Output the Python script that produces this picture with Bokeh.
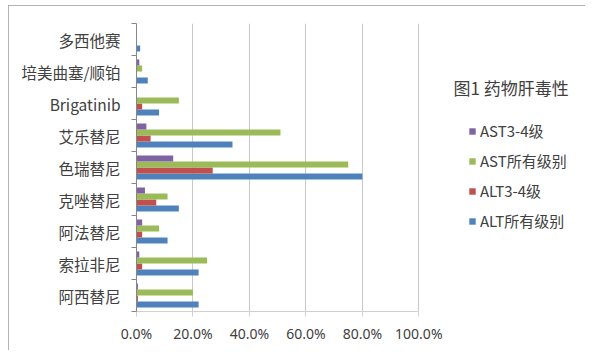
import numpy as np
from bokeh.plotting import figure
from bokeh.models import (ColumnDataSource, Range1d, FixedTicker, NumeralTickFormatter,
                          Legend, LegendItem, Label)
from bokeh.embed import file_html
from bokeh.resources import INLINE

# Data (bottom to top as drawn)
categories = ["阿西替尼", "索拉非尼", "阿法替尼", "克唑替尼", "色瑞替尼",
              "艾乐替尼", "Brigatinib", "培美曲塞/顺铂", "多西他赛"]
alt_all = [0.22, 0.22, 0.11, 0.15, 0.80, 0.34, 0.08, 0.04, 0.013]
alt_34 = [0.005, 0.02, 0.02, 0.07, 0.27, 0.05, 0.02, 0.0, 0.0]
ast_all = [0.20, 0.25, 0.08, 0.11, 0.75, 0.51, 0.15, 0.02, 0.0]
ast_34 = [0.005, 0.01, 0.02, 0.03, 0.13, 0.035, 0.0, 0.01, 0.0]
x_ticks = [0.0, 0.2, 0.4, 0.6, 0.8, 1.0]

series = [
    ("ALT所有级别", alt_all, "#4F81BD", -0.28),
    ("ALT3-4级", alt_34, "#C0504D", -0.094),
    ("AST所有级别", ast_all, "#9BBB59", 0.094),
    ("AST3-4级", ast_34, "#8064A2", 0.28),
]

n = len(categories)
centers = np.arange(n) + 0.5

p = figure(width=577, height=345, output_backend="svg", toolbar_location=None,
           x_range=Range1d(0, 1.5586), y_range=Range1d(0, n),
           min_border_left=128, min_border_right=9, min_border_top=18,
           min_border_bottom=39)
p.outline_line_color = None
p.styles = {"outline": "1px solid #9a9a9a", "outline-offset": "-1px",
            "margin-left": "8px", "margin-top": "5px"}

renderers = {}
for name, vals, color, off in series:
    src = ColumnDataSource(dict(y=centers + off, v=vals))
    r = p.hbar(y="y", right="v", left=0, height=0.19, source=src,
               fill_color=color, line_color=None)
    renderers[name] = r

# X axis
p.xaxis.ticker = FixedTicker(ticks=x_ticks)
p.xaxis.bounds = (0, 1.0)
p.xaxis.formatter = NumeralTickFormatter(format="0.0%")
p.xaxis.axis_line_color = "#D0D0D0"
p.xaxis.major_tick_line_color = "#D0D0D0"
p.xaxis.major_tick_out = 5
p.xaxis.major_tick_in = 0
p.xaxis.minor_tick_line_color = None
p.xaxis.major_label_text_font = "Noto Sans"
p.xaxis.major_label_text_font_size = "14px"
p.xaxis.major_label_text_color = "#404040"
p.xaxis.major_label_standoff = 7

# Y axis: labels at centers, ticks at boundaries
p.yaxis.ticker = FixedTicker(ticks=list(centers), minor_ticks=list(range(n + 1)))
p.yaxis.major_label_overrides = {float(c): categories[i] for i, c in enumerate(centers)}
p.yaxis.major_tick_line_color = None
p.yaxis.minor_tick_line_color = "#868686"
p.yaxis.minor_tick_out = 5
p.yaxis.minor_tick_in = 0
p.yaxis.axis_line_color = "#868686"
p.yaxis.major_label_text_font = "Noto Sans CJK SC"
p.yaxis.major_label_text_font_size = "15.5px"
p.yaxis.major_label_text_color = "#404040"
p.yaxis.major_label_standoff = 10

p.xgrid.ticker = FixedTicker(ticks=x_ticks[1:])
p.xgrid.grid_line_color = "#C8C8C8"
p.ygrid.grid_line_color = None

legend = Legend(items=[LegendItem(label=name, renderers=[renderers[name]])
                       for name in ["AST3-4级", "AST所有级别", "ALT3-4级", "ALT所有级别"]],
                location=(332, 80), padding=0, margin=0, glyph_width=8, glyph_height=8,
                label_standoff=4, spacing=9, label_height=20,
                label_text_font="Noto Sans CJK SC", label_text_font_size="15px",
                label_text_color="#404040", background_fill_alpha=0,
                border_line_color=None)
p.add_layout(legend)

title = Label(x=317, y=224, x_units="screen", y_units="screen", text="图1 药物肝毒性",
              text_font="Noto Sans CJK SC", text_font_size="17px", text_color="#404040",
              text_baseline="middle")
p.add_layout(title)

open("out.html", "w").write(file_html(p, INLINE))
